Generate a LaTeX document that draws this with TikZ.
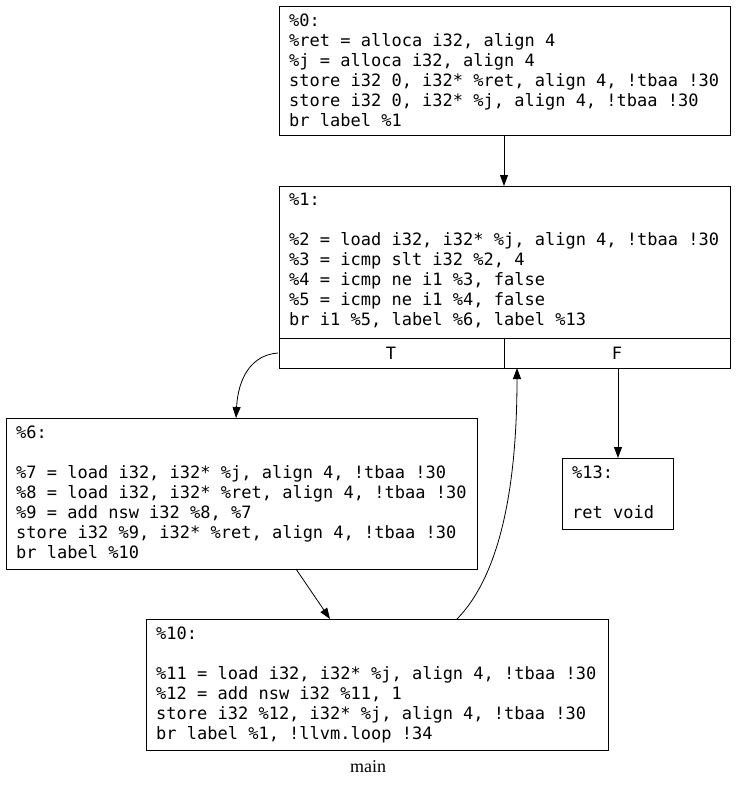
\documentclass[tikz,border=0pt]{standalone}
\usepackage{fontspec}
\setmainfont{Liberation Serif}
\newfontfamily\monof{DejaVu Sans Mono}
\usetikzlibrary{arrows.meta}
\begin{document}
\begin{tikzpicture}[x=1pt,y=-1pt,
  box/.style={draw,line width=0.8pt},
  txt/.style={anchor=north west,inner sep=0pt,align=left,font=\monof\fontsize{17}{20}\selectfont},
  lbl/.style={inner sep=0pt,font=\monof\fontsize{17}{20}\selectfont},
  edge/.style={draw,line width=0.8pt,-{Triangle[length=11pt,width=8pt]}}]
\useasboundingbox (0,0) rectangle (736,788);
\draw[box] (279,6) rectangle (730,135);
\node[txt] (t0) at (289,14) {\%0:\\\%ret = alloca i32, align 4\\\%j = alloca i32, align 4\\store i32 0, i32* \%ret, align 4, !tbaa !30\\store i32 0, i32* \%j, align 4, !tbaa !30\\br label \%1};
\draw[box] (279,186) rectangle (730,368);
\draw[box] (279,338) -- (730,338) (504,338) -- (504,368);
\node[txt] (t1) at (289,193) {\%1:\\\\\%2 = load i32, i32* \%j, align 4, !tbaa !30\\\%3 = icmp slt i32 \%2, 4\\\%4 = icmp ne i1 \%3, false\\\%5 = icmp ne i1 \%4, false\\br i1 \%5, label \%6, label \%13};
\node[lbl] (T) at (391,353) {T};
\node[lbl] (F) at (617,353) {F};
\draw[box] (6,418) rectangle (477,569);
\node[txt] (t6) at (16,426) {\%6:\\\\\%7 = load i32, i32* \%j, align 4, !tbaa !30\\\%8 = load i32, i32* \%ret, align 4, !tbaa !30\\\%9 = add nsw i32 \%8, \%7\\store i32 \%9, i32* \%ret, align 4, !tbaa !30\\br label \%10};
\draw[box] (562,458) rectangle (673,529);
\node[txt] (t13) at (572,466) {\%13:\\\\ret void};
\draw[box] (146,619) rectangle (608,750);
\node[txt] (t10) at (156,627) {\%10:\\\\\%11 = load i32, i32* \%j, align 4, !tbaa !30\\\%12 = add nsw i32 \%11, 1\\store i32 \%12, i32* \%j, align 4, !tbaa !30\\br label \%1, !llvm.loop !34};
\node[inner sep=0pt,font=\fontsize{18}{20}\selectfont] (title) at (368,767) {main};
\coordinate (a0) at (504,135); \coordinate (b0) at (504,186);
\coordinate (aT) at (278,353); \coordinate (bT) at (236,418);
\coordinate (aF) at (618,368); \coordinate (bF) at (618,458);
\coordinate (a6) at (296,569); \coordinate (b6) at (330,619);
\coordinate (a10) at (457,619); \coordinate (b10) at (517,368);
\path[edge] (a0) -- (b0);
\path[edge] (aT) .. controls (250,355) and (238,380) .. (bT);
\path[edge] (aF) -- (bF);
\path[edge] (a6) -- (b6);
\path[edge] (a10) .. controls (505,570) and (517,470) .. (b10);
\end{tikzpicture}
\end{document}
